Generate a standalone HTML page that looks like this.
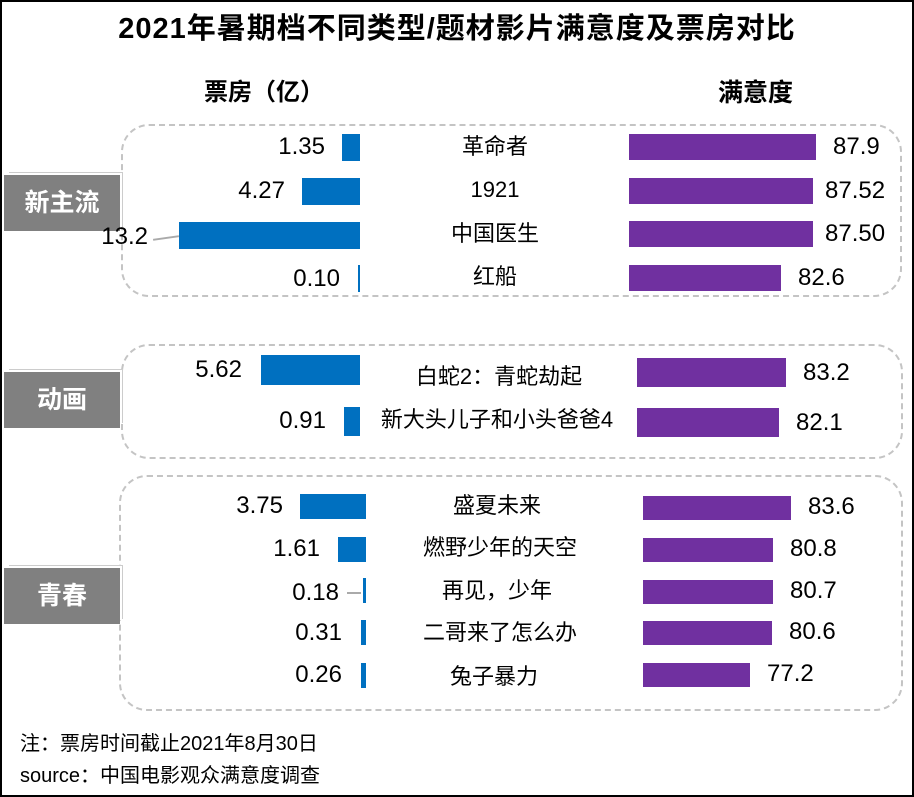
<!DOCTYPE html>
<html><head><meta charset="utf-8"><style>
*{margin:0;padding:0;box-sizing:border-box}
body{width:914px;height:797px;background:#fff;position:relative;overflow:hidden;font-family:"Liberation Sans","Noto Sans CJK SC",sans-serif;color:#000}
.frame{position:absolute;left:0;top:0;width:914px;height:797px;border:2px solid #000}
.a{position:absolute;white-space:nowrap}
.box{position:absolute;border:2px dashed #c4c4c4;border-radius:28px}
.b{position:absolute;background:#0070c0}
.p{position:absolute;background:#7030a0}
.n{position:absolute;font-size:24px;line-height:28px;text-align:right;width:100px}
.v{position:absolute;font-size:24px;line-height:28px}
.m{position:absolute;font-size:22px;line-height:28px;text-align:center;width:320px;white-space:nowrap}
.tag{position:absolute;left:4px;width:116px;height:56px;background:#808080;color:#fff;font-weight:bold;font-size:25px;line-height:56px;text-align:center;box-shadow:3px -3px 0 -1px #fff,4px -4px 0 -1px #ccc}
</style></head><body>
<div class="a" style="left:0;width:914px;top:11px;text-align:center;font-size:29px;font-weight:bold;line-height:36px;letter-spacing:1px">2021年暑期档不同类型/题材影片满意度及票房对比</div>
<div class="a" style="left:204px;top:78px;font-size:24px;font-weight:bold;line-height:30px">票房（亿）</div>
<div class="a" style="left:718px;top:78px;font-size:25px;font-weight:bold;line-height:30px">满意度</div>

<div class="box" style="left:121px;top:124px;width:781px;height:173px"></div>
<div class="box" style="left:121px;top:344px;width:782px;height:115px"></div>
<div class="box" style="left:119px;top:475px;width:784px;height:236px"></div>

<div class="tag" style="top:175px">新主流</div>
<div class="tag" style="top:372px">动画</div>
<div class="tag" style="top:568px">青春</div>

<!-- group 1 -->
<div class="b" style="left:342px;top:134px;width:18px;height:27px"></div>
<div class="n" style="left:225px;top:133px">1.35</div>
<div class="b" style="left:302px;top:178px;width:58px;height:27px"></div>
<div class="n" style="left:185px;top:177px">4.27</div>
<div class="b" style="left:179px;top:222px;width:181px;height:27px"></div>
<div class="n" style="left:48px;top:223px">13.2</div>
<div class="a" style="left:153px;top:237px;width:26px;height:2px;background:#aaa;transform:rotate(-8deg)"></div>
<div class="b" style="left:358px;top:265px;width:2px;height:27px"></div>
<div class="n" style="left:240px;top:265px">0.10</div>

<div class="m" style="left:335px;top:133px">革命者</div>
<div class="m" style="left:335px;top:176px">1921</div>
<div class="m" style="left:335px;top:220px">中国医生</div>
<div class="m" style="left:335px;top:263px">红船</div>

<div class="p" style="left:629px;top:134px;width:187px;height:26px"></div><div class="v" style="left:833px;top:133px">87.9</div>
<div class="p" style="left:629px;top:178px;width:184px;height:26px"></div><div class="v" style="left:825px;top:177px">87.52</div>
<div class="p" style="left:629px;top:221px;width:184px;height:26px"></div><div class="v" style="left:825px;top:220px">87.50</div>
<div class="p" style="left:629px;top:265px;width:152px;height:26px"></div><div class="v" style="left:798px;top:264px">82.6</div>

<!-- group 2 -->
<div class="b" style="left:261px;top:355px;width:99px;height:30px"></div>
<div class="n" style="left:142px;top:356px">5.62</div>
<div class="b" style="left:344px;top:407px;width:16px;height:29px"></div>
<div class="n" style="left:226px;top:407px">0.91</div>
<div class="m" style="left:339px;top:363px">白蛇2：青蛇劫起</div>
<div class="m" style="left:337px;top:406px">新大头儿子和小头爸爸4</div>
<div class="p" style="left:637px;top:358px;width:149px;height:29px"></div><div class="v" style="left:803px;top:359px">83.2</div>
<div class="p" style="left:637px;top:408px;width:142px;height:29px"></div><div class="v" style="left:796px;top:409px">82.1</div>

<!-- group 3 -->
<div class="b" style="left:300px;top:494px;width:66px;height:25px"></div>
<div class="n" style="left:183px;top:492px">3.75</div>
<div class="b" style="left:338px;top:537px;width:28px;height:25px"></div>
<div class="n" style="left:220px;top:535px">1.61</div>
<div class="b" style="left:363px;top:578px;width:3px;height:25px"></div>
<div class="n" style="left:239px;top:579px">0.18</div>
<div class="a" style="left:347px;top:592px;width:14px;height:2px;background:#aaa"></div>
<div class="b" style="left:361px;top:620px;width:5px;height:25px"></div>
<div class="n" style="left:242px;top:619px">0.31</div>
<div class="b" style="left:361px;top:663px;width:5px;height:25px"></div>
<div class="n" style="left:242px;top:661px">0.26</div>

<div class="m" style="left:337px;top:492px">盛夏未来</div>
<div class="m" style="left:340px;top:534px">燃野少年的天空</div>
<div class="m" style="left:337px;top:577px">再见，少年</div>
<div class="m" style="left:340px;top:619px">二哥来了怎么办</div>
<div class="m" style="left:334px;top:663px">兔子暴力</div>

<div class="p" style="left:643px;top:496px;width:148px;height:24px"></div><div class="v" style="left:808px;top:493px">83.6</div>
<div class="p" style="left:643px;top:538px;width:130px;height:24px"></div><div class="v" style="left:790px;top:535px">80.8</div>
<div class="p" style="left:643px;top:580px;width:130px;height:24px"></div><div class="v" style="left:790px;top:577px">80.7</div>
<div class="p" style="left:643px;top:621px;width:129px;height:24px"></div><div class="v" style="left:789px;top:618px">80.6</div>
<div class="p" style="left:643px;top:663px;width:107px;height:24px"></div><div class="v" style="left:767px;top:660px">77.2</div>

<div class="a" style="left:20px;top:731px;font-size:20px;line-height:26px">注：票房时间截止2021年8月30日</div>
<div class="a" style="left:20px;top:763px;font-size:20px;line-height:26px">source：中国电影观众满意度调查</div>
<div class="frame"></div>
</body></html>
